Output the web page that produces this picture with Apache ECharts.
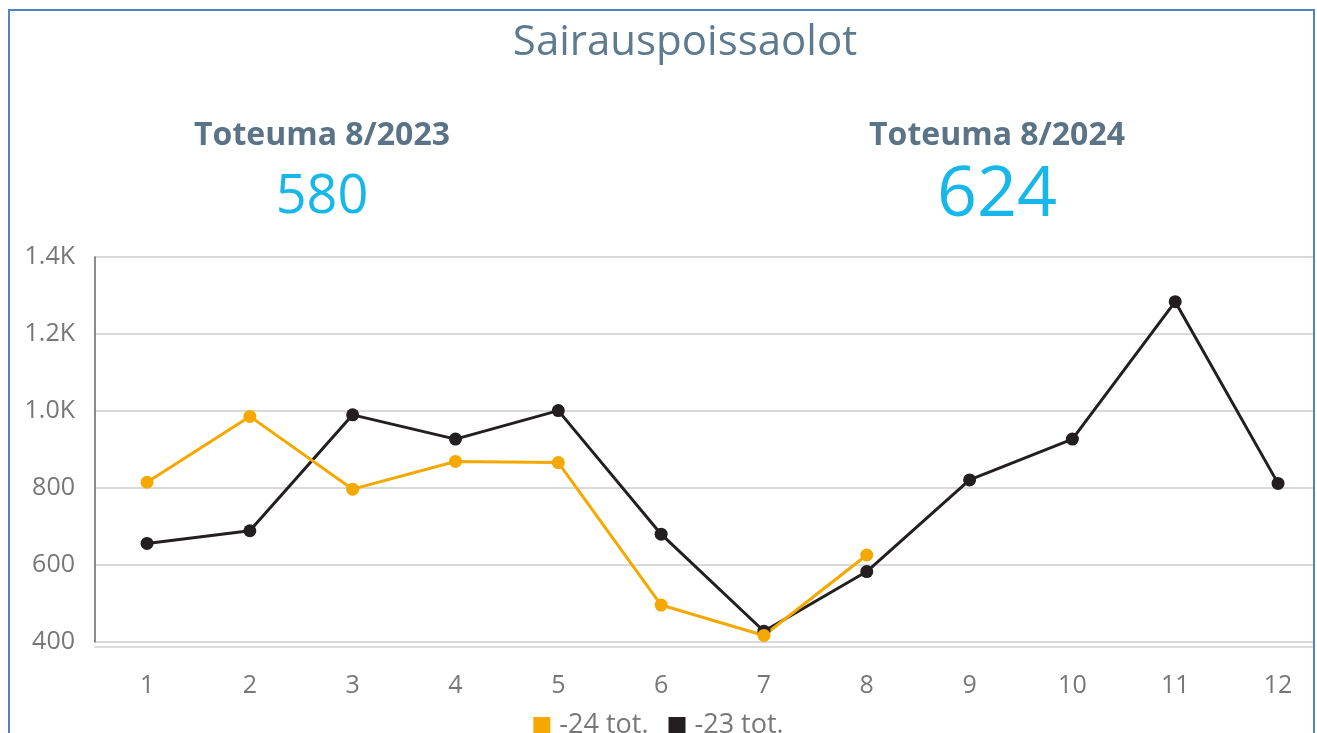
<!DOCTYPE html>
<html>
<head>
<meta charset="utf-8">
<script src="https://cdn.jsdelivr.net/npm/echarts@6/dist/echarts.min.js"></script>
<style>
  html, body { margin: 0; padding: 0; background: #fff; }
  #main { width: 1317px; height: 733px; }
</style>
</head>
<body>
<div id="main"></div>
<script>
// data
var months = [1, 2, 3, 4, 5, 6, 7, 8, 9, 10, 11, 12];
var tot24 = [815, 986, 797, 869, 866, 496, 417, 626];
var tot23 = [656, 689, 990, 927, 1001, 680, 428, 583, 821, 927, 1284, 812];
var seriesNames = ['-24 tot.', '-23 tot.'];
var kpiLabels = ['Toteuma 8/2023', 'Toteuma 8/2024'];
var kpiValues = ['580', '624'];

function pairs(vals) {
    return vals.map(function (v, i) { return [months[i], v]; });
}

var font = '"Open Sans", "Noto Sans", sans-serif';
var myChart = echarts.init(document.getElementById('main'));
var option = {
    animation: false,
    textStyle: { fontFamily: font },
    grid: { left: 95, right: 4, top: 257, bottom: 91 },
    legend: {
        data: seriesNames,
        left: 'center',
        top: 707,
        icon: 'rect',
        itemWidth: 17,
        itemHeight: 17,
        itemGap: 20,
        textStyle: { color: '#777', fontSize: 27, fontFamily: font, padding: [0, 0, 0, 4] }
    },
    xAxis: {
        type: 'value',
        min: 0.494,
        max: 12.34,
        offset: 5,
        axisLine: { show: true, lineStyle: { color: '#dcdcdc', width: 2 } },
        axisTick: { show: false },
        splitLine: { show: false },
        axisLabel: {
            customValues: months,
            color: '#777',
            fontSize: 25,
            margin: 26
        }
    },
    yAxis: {
        type: 'value',
        min: 400,
        max: 1400,
        interval: 200,
        axisLine: { show: true, lineStyle: { color: '#666', width: 1.5 } },
        axisTick: { show: false },
        splitLine: { lineStyle: { color: '#d9d9d9', width: 2 } },
        axisLabel: {
            color: '#777',
            fontSize: 25,
            margin: 20,
            formatter: function (v) {
                return v >= 1000 ? (v / 1000).toFixed(1) + 'K' : v;
            }
        }
    },
    series: [{
        name: seriesNames[1],
        type: 'line',
        data: pairs(tot23),
        color: '#231f20',
        symbol: 'circle',
        symbolSize: 13,
        lineStyle: { width: 3 }
    }, {
        name: seriesNames[0],
        type: 'line',
        data: pairs(tot24),
        color: '#f4a800',
        symbol: 'circle',
        symbolSize: 13,
        lineStyle: { width: 3 }
    }],
    graphic: [{
        type: 'rect',
        shape: { x: 9, y: 10, width: 1305, height: 800 },
        style: { fill: 'none', stroke: '#4f82c8', lineWidth: 2 },
        z: 100
    }, {
        type: 'text', x: 685, y: 43,
        style: { text: 'Sairauspoissaolot', font: '42px ' + font, fill: '#5d7a8e', textAlign: 'center', textVerticalAlign: 'middle' }
    }, {
        type: 'text', x: 322, y: 136,
        style: { text: kpiLabels[0], font: 'bold 32px ' + font, fill: '#5a7386', textAlign: 'center', textVerticalAlign: 'middle' }
    }, {
        type: 'text', x: 997, y: 136,
        style: { text: kpiLabels[1], font: 'bold 32px ' + font, fill: '#5a7386', textAlign: 'center', textVerticalAlign: 'middle' }
    }, {
        type: 'text', x: 322, y: 198,
        style: { text: kpiValues[0], font: '54px ' + font, fill: '#17b7ea', textAlign: 'center', textVerticalAlign: 'middle' }
    }, {
        type: 'text', x: 997, y: 196,
        style: { text: kpiValues[1], font: '70px ' + font, fill: '#17b7ea', textAlign: 'center', textVerticalAlign: 'middle' }
    }]
};
myChart.setOption(option);
window.addEventListener('resize', function () {
    myChart.resize();
});
</script>
</body>
</html>
